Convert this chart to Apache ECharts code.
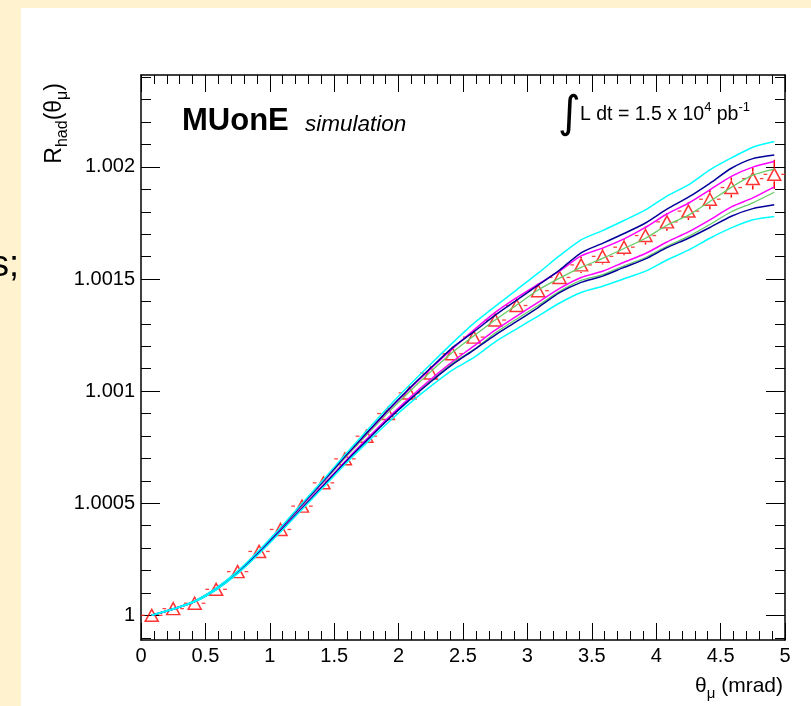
<!DOCTYPE html>
<html><head><meta charset="utf-8">
<script src="https://cdn.jsdelivr.net/npm/echarts@6/dist/echarts.min.js"></script>
<style>html,body{margin:0;padding:0;background:#fff3cf}#c{width:811px;height:706px}</style>
</head><body><div id="c"></div>
<script>
// ---------------- data ----------------
const binCenters = [0.0833,0.25,0.4167,0.5833,0.75,0.9167,1.0833,1.25,1.4167,1.5833,1.75,1.9167,2.0833,2.25,2.4167,2.5833,2.75,2.9167,3.0833,3.25,3.4167,3.5833,3.75,3.9167,4.0833,4.25,4.4167,4.5833,4.75,4.9167];
const binHalfWidth = 0.0833;
const markerValues = [1.000000,1.000030,1.000054,1.000116,1.000195,1.000285,1.000383,1.000487,1.000591,1.000698,1.000799,1.000900,1.000992,1.001081,1.001167,1.001241,1.001317,1.001382,1.001448,1.001507,1.001563,1.001601,1.001642,1.001694,1.001755,1.001803,1.001856,1.001908,1.001948,1.001967];
const markerErrors = [0.000002,0.000002,0.000003,0.000003,0.000004,0.000005,0.000006,0.000007,0.000008,0.000009,0.000010,0.000012,0.000014,0.000016,0.000018,0.000022,0.000027,0.000027,0.000031,0.000031,0.000036,0.000036,0.000036,0.000040,0.000040,0.000040,0.000045,0.000045,0.000049,0.000065];
const cyanUp    = [1.000000,1.000029,1.000064,1.000121,1.000197,1.000290,1.000392,1.000499,1.000606,1.000716,1.000822,1.000927,1.001026,1.001121,1.001214,1.001302,1.001378,1.001452,1.001526,1.001604,1.001675,1.001716,1.001761,1.001808,1.001870,1.001920,1.001987,1.002040,1.002088,1.002113];
const navyUp    = [1.000000,1.000029,1.000063,1.000120,1.000195,1.000287,1.000388,1.000494,1.000600,1.000708,1.000812,1.000915,1.001012,1.001104,1.001193,1.001264,1.001339,1.001406,1.001473,1.001540,1.001617,1.001659,1.001703,1.001750,1.001812,1.001865,1.001927,1.001994,1.002037,1.002053];
const magentaUp = [1.000000,1.000028,1.000063,1.000120,1.000194,1.000286,1.000388,1.000493,1.000598,1.000707,1.000810,1.000912,1.001008,1.001100,1.001188,1.001272,1.001351,1.001417,1.001477,1.001536,1.001603,1.001638,1.001679,1.001730,1.001790,1.001838,1.001898,1.001958,1.001999,1.002024];
const greenUp   = [1.000000,1.000028,1.000062,1.000119,1.000193,1.000284,1.000385,1.000489,1.000594,1.000701,1.000803,1.000903,1.000997,1.001087,1.001172,1.001246,1.001317,1.001384,1.001451,1.001504,1.001552,1.001592,1.001636,1.001682,1.001740,1.001785,1.001846,1.001909,1.001963,1.001990];
const magentaLo = [1.000000,1.000028,1.000061,1.000116,1.000189,1.000279,1.000378,1.000480,1.000582,1.000686,1.000785,1.000880,1.000969,1.001053,1.001131,1.001201,1.001272,1.001335,1.001396,1.001458,1.001507,1.001535,1.001575,1.001614,1.001665,1.001710,1.001764,1.001822,1.001862,1.001911];
const greenLo   = [1.000000,1.000027,1.000061,1.000116,1.000189,1.000279,1.000377,1.000479,1.000581,1.000684,1.000781,1.000876,1.000965,1.001047,1.001125,1.001185,1.001259,1.001322,1.001382,1.001445,1.001494,1.001520,1.001559,1.001596,1.001646,1.001690,1.001743,1.001800,1.001840,1.001887];
const navyLo    = [1.000000,1.000027,1.000061,1.000115,1.000188,1.000278,1.000376,1.000477,1.000579,1.000681,1.000778,1.000872,1.000960,1.001042,1.001118,1.001183,1.001250,1.001311,1.001373,1.001439,1.001485,1.001513,1.001552,1.001590,1.001640,1.001682,1.001730,1.001780,1.001814,1.001831];
const cyanLo    = [1.000000,1.000027,1.000060,1.000114,1.000186,1.000275,1.000372,1.000472,1.000572,1.000673,1.000768,1.000859,1.000944,1.001022,1.001094,1.001149,1.001220,1.001278,1.001335,1.001393,1.001440,1.001468,1.001501,1.001535,1.001585,1.001629,1.001682,1.001728,1.001764,1.001779];
const xTickValues = [0,0.5,1,1.5,2,2.5,3,3.5,4,4.5,5];
const xTickLabels = ['0','0.5','1','1.5','2','2.5','3','3.5','4','4.5','5'];
const yTickValues = [1,1.0005,1.001,1.0015,1.002];
const yTickLabels = ['1','1.0005','1.001','1.0015','1.002'];
const yMinorTicks = [0.9999,1.0000,1.0001,1.0002,1.0003,1.0004,1.0005,1.0006,1.0007,1.0008,1.0009,1.0010,1.0011,1.0012,1.0013,1.0014,1.0015,1.0016,1.0017,1.0018,1.0019,1.0020,1.0021,1.0022,1.0023,1.0024];
const xRange = [0,5];
const yRange = [0.99989,1.00241];

// ---------------- chart ----------------
const FONT = '"Liberation Sans", Arial, Helvetica, sans-serif';
const chart = echarts.init(document.getElementById('c'), null, {renderer:'canvas'});
const black = '#000';
function xAxisDef(pos, showLabel){
  return {type:'value', position:pos, min:xRange[0], max:xRange[1], interval:0.5,
    axisLine:{show:true, onZero:false, lineStyle:{color:black, width:1.5}},
    axisTick:{show:true, inside:true, length:17, lineStyle:{color:black, width:1}},
    minorTick:{show:true, splitNumber:5, length:9, lineStyle:{color:black, width:1}},
    splitLine:{show:false}, minorSplitLine:{show:false},
    axisLabel:{show:showLabel, color:black, fontSize:20, fontFamily:FONT, margin:6,
      formatter:v=>{const i=xTickValues.findIndex(t=>Math.abs(t-v)<1e-6);return i>=0?xTickLabels[i]:'';}}};
}
function yAxisDef(pos, major, showLabel){
  const vals = major ? yTickValues : yMinorTicks;
  return {type:'value', position:pos, min:yRange[0], max:yRange[1],
    axisLine:{show:major, onZero:false, lineStyle:{color:black, width:1.5}},
    axisTick:{show:true, inside:true, length:major?19:10, customValues:vals, lineStyle:{color:black, width:1}},
    splitLine:{show:false},
    axisLabel:{show:showLabel, customValues:yTickValues, color:black, fontSize:20, fontFamily:FONT, margin:6,
      formatter:v=>{const i=yTickValues.findIndex(t=>Math.abs(t-v)<1e-7);return i>=0?yTickLabels[i]:'';}}};
}
const zip = arr => binCenters.map((x,i)=>[x,arr[i]]);
function lineSeries(name, arr, color, w){
  return {name, type:'line', data:zip(arr), smooth:0.25, showSymbol:false, symbol:'none',
    lineStyle:{color, width:w}, silent:true, z:5, xAxisIndex:0, yAxisIndex:0};
}
const errData = binCenters.map((x,i)=>[x, markerValues[i], markerErrors[i]]);
const option = {
  animation:false,
  backgroundColor:'#fff3cf',
  grid:{left:141, top:75, right:26, bottom:66, show:false},
  xAxis:[xAxisDef('bottom', true), xAxisDef('top', false)],
  yAxis:[yAxisDef('left', true, true), yAxisDef('left', false, false), yAxisDef('right', true, false), yAxisDef('right', false, false)],
  graphic:[
    {type:'rect', shape:{x:21, y:8, width:800, height:710}, style:{fill:'#fff'}, z:-100, silent:true},
    {type:'text', x:19, y:266, style:{text:'s;', fill:black, font:'36px '+FONT, align:'right', verticalAlign:'middle'}, silent:true},
    {type:'text', x:182, y:121, style:{text:'MUonE', fill:black, font:'bold 31px '+FONT, align:'left', verticalAlign:'middle'}, silent:true},
    {type:'text', x:305, y:125, style:{text:'simulation', fill:black, font:'italic 22.5px '+FONT, align:'left', verticalAlign:'middle'}, silent:true},
    {type:'text', x:558, y:116, style:{text:'∫', fill:black, font:'44px "DejaVu Sans"', align:'left', verticalAlign:'middle'}, silent:true},
    {type:'text', x:580, y:115, style:{text:'{n|L dt = 1.5 x 10}{p|4}{n| pb}{p|-1}', fill:black, align:'left', verticalAlign:'middle',
      rich:{n:{fontSize:19.5, fontFamily:FONT, fill:black}, p:{fontSize:13, fontFamily:FONT, fill:black, padding:[0,0,16,0]}}}, silent:true},
    {type:'text', x:783, y:686, style:{text:'{n|θ}{s|μ}{n| (mrad)}', fill:black, align:'right', verticalAlign:'middle',
      rich:{n:{fontSize:21, fontFamily:FONT, fill:black}, s:{fontSize:15, fontFamily:FONT, fill:black, padding:[15,0,0,0]}}}, silent:true},
    {type:'text', x:55, y:83, rotation:Math.PI/2, style:{text:'{n|R}{s|had}{n|(θ}{s|μ}{n|)}', fill:black, align:'right', verticalAlign:'middle',
      rich:{n:{fontSize:23, fontFamily:FONT, fill:black}, s:{fontSize:16, fontFamily:FONT, fill:black, padding:[15,0,0,0]}}}, silent:true}
  ],
  series:[
    {type:'custom', name:'errors', data:errData, xAxisIndex:0, yAxisIndex:0, z:3, silent:true,
      renderItem:(params, api)=>{
        const x=api.value(0), y=api.value(1), e=api.value(2);
        const c=api.coord([x,y]), l=api.coord([x-binHalfWidth,y]), r=api.coord([x+binHalfWidth,y]);
        const t=api.coord([x,y+e]), b=api.coord([x,y-e]);
        const g=7, ch=[];
        const st={stroke:'#ff2020', lineWidth:1.3, opacity:0.85};
        ch.push({type:'line', shape:{x1:l[0], y1:c[1], x2:c[0]-g, y2:c[1]}, style:st});
        ch.push({type:'line', shape:{x1:c[0]+g, y1:c[1], x2:r[0], y2:c[1]}, style:st});
        if (t[1] < c[1]-g) ch.push({type:'line', shape:{x1:c[0], y1:t[1], x2:c[0], y2:c[1]-g}, style:{stroke:'#ff0000', lineWidth:1.5}});
        if (b[1] > c[1]+g) ch.push({type:'line', shape:{x1:c[0], y1:c[1]+g, x2:c[0], y2:b[1]}, style:{stroke:'#ff0000', lineWidth:1.5}});
        return {type:'group', children:ch};
      }},
    {type:'scatter', name:'markers', data:zip(markerValues), symbol:'triangle', symbolSize:[13,12], z:4, silent:true,
      itemStyle:{color:'rgba(255,255,255,0)', borderColor:'#ff0000', borderWidth:1.5}},
    lineSeries('greenLo', greenLo, '#66cc66', 1.3),
    lineSeries('greenUp', greenUp, '#66cc66', 1.3),
    lineSeries('magentaLo', magentaLo, '#ff00ff', 1.5),
    lineSeries('magentaUp', magentaUp, '#ff00ff', 1.5),
    lineSeries('navyLo', navyLo, '#000099', 1.5),
    lineSeries('navyUp', navyUp, '#000099', 1.5),
    lineSeries('cyanLo', cyanLo, '#00ffff', 1.5),
    lineSeries('cyanUp', cyanUp, '#00ffff', 1.5)
  ]
};
chart.setOption(option);
</script></body></html>
